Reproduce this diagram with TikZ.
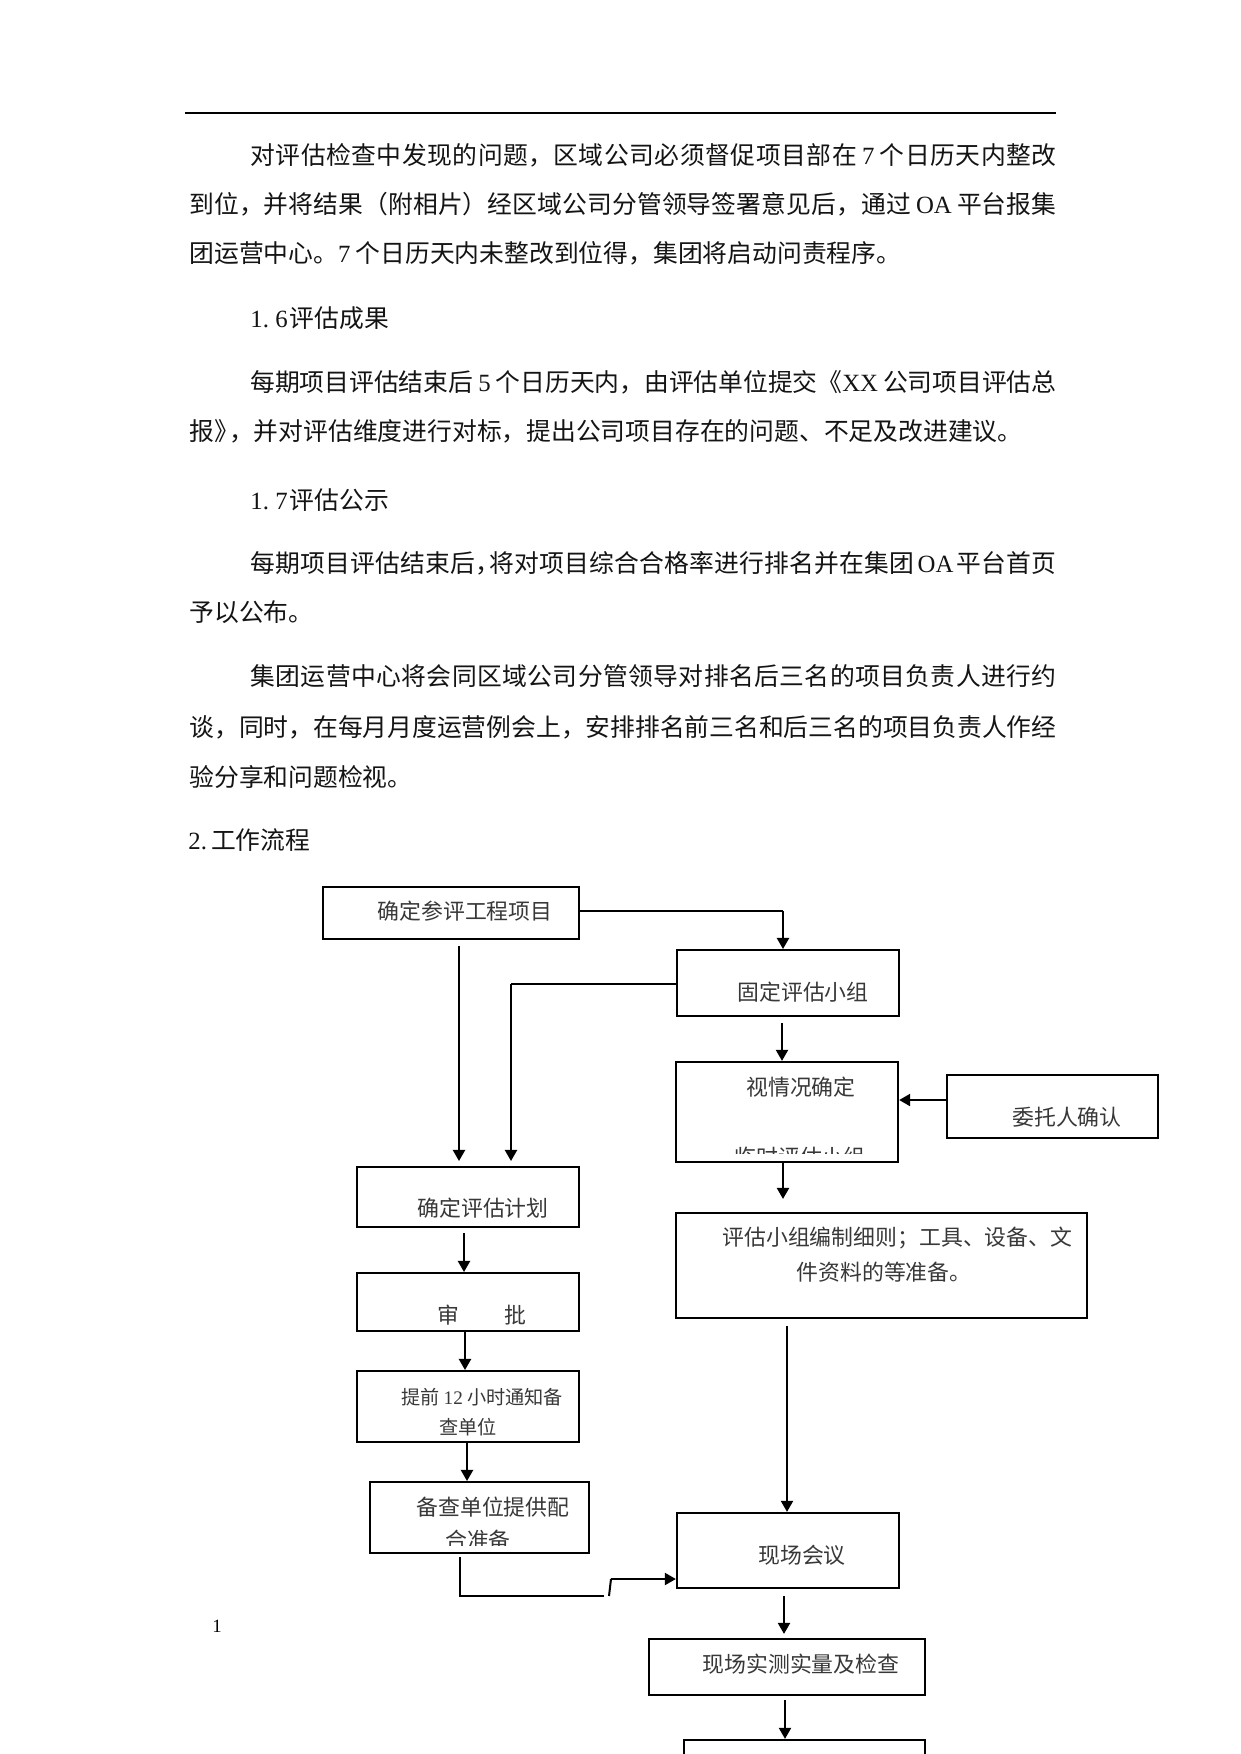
\documentclass[tikz,border=0pt]{standalone}
\usepackage{fontspec}
\setmainfont{Noto Sans CJK SC}
\newfontfamily\lat{Liberation Serif}
\usetikzlibrary{arrows.meta,fit,calc}
\XeTeXlinebreaklocale "zh"
\XeTeXlinebreakskip=0pt plus 1fil minus 0.6pt
\newcommand{\ls}{\hspace{2.5pt minus 1pt}}
\newcommand{\jl}[2]{\parbox{#1}{\parfillskip=0pt\parindent=0pt\leftskip=0pt\rightskip=0pt\hbadness=10000\hfuzz=20pt #2}}
\begin{document}
\begin{tikzpicture}[x=0.48pt,y=-0.48pt,
  box/.style={draw, line width=0.96pt, inner sep=0pt},
  bt/.style={font=\fontsize{10.5}{12}\selectfont, text=black!78, inner sep=0pt},
  smallbt/.style={font=\fontsize{9.2}{11}\selectfont, text=black!78, inner sep=0pt},
  para/.style={font=\fontsize{11.9}{14}\selectfont, anchor=west, inner sep=0pt, text=black!92},
  conn/.style={line width=0.96pt},
  thinconn/.style={line width=0.5pt},
  arr/.style={conn, -{Triangle[width=5.8pt,length=5.3pt]}}]
\useasboundingbox (0,0) rectangle (1241,1754);
\clip (0,0) rectangle (1241,1754);
\fill[white] (0,0) rectangle (1241,1754);

% header rule
\coordinate (r1) at (185,113);
\coordinate (r2) at (1056,113);
\draw[line width=1.1pt] (r1) -- (r2);

% paragraphs
\node[para] (p1) at (250,155) {\jl{386.9pt}{对评估检查中发现的问题，区域公司必须督促项目部在\ls{\lat 7}\ls 个日历天内整改}};
\node[para] (p2) at (189,204) {\jl{416.2pt}{到位，并将结果（附相片）经区域公司分管领导签署意见后，通过\ls{\lat OA}\ls 平台报集}};
\node[para] (p3) at (189,253) {团运营中心。{\lat 7}\ls 个日历天内未整改到位得，集团将启动问责程序。};
\node[para] (p4) at (250,318) {{\lat 1.\hspace{3pt}6}\hspace{1pt}评估成果};
\node[para] (p5) at (250,382) {\jl{386.9pt}{每期项目评估结束后\ls{\lat 5}\ls 个日历天内，由评估单位提交《{\lat XX}\ls 公司项目评估总}};
\node[para] (p6) at (189,431) {报》\kern-0.4em，并对评估维度进行对标，提出公司项目存在的问题、不足及改进建议。};
\node[para] (p7) at (250,500) {{\lat 1.\hspace{3pt}7}\hspace{1pt}评估公示};
\node[para] (p8) at (250,563) {\jl{386.9pt}{每期项目评估结束后，\kern-0.45em 将对项目综合合格率进行排名并在集团\hspace{1.5pt}{\lat OA}\hspace{1.5pt}平台首页}};
\node[para] (p9) at (189,612) {予以公布。};
\node[para] (p10) at (250,676) {\jl{386.9pt}{集团运营中心将会同区域公司分管领导对排名后三名的项目负责人进行约}};
\node[para] (p11) at (189,727) {\jl{416.2pt}{谈，同时，在每月月度运营例会上，安排排名前三名和后三名的项目负责人作经}};
\node[para] (p12) at (189,777) {验分享和问题检视。};
\node[para] (p13) at (188,840) {{\lat 2.}\hspace{2pt}工作流程};

% page number
\node[font=\lat\fontsize{9}{10}\selectfont, inner sep=0pt] (pn) at (217,1626) {1};

% boxes
\node[box, line width=1.2pt, fit={(323,887)(579,939)}] (b1) {};
\node[bt] (t1) at (465,911) {确定参评工程项目};
\node[box, fit={(677,950)(899,1016)}] (b2) {};
\node[bt] (t2) at (803,992) {固定评估小组};
\node[box, line width=1.1pt, fit={(676,1062)(898,1162)}] (b3) {};
\node[bt] (t3) at (801,1087) {视情况确定};
\begin{scope}
  \clip (676,1130) rectangle (898,1153);
  \node[bt] (t3b) at (800,1157) {临时评估小组};
\end{scope}
\node[box, line width=1.1pt, fit={(947,1075)(1158,1138)}] (b4) {};
\node[bt] (t4) at (1067,1117) {委托人确认};
\node[box, line width=1.1pt, fit={(676,1213)(1087,1318)}] (b5) {};
\node[bt, anchor=west] (t5a) at (722,1238) {评估小组编制细则；工具、设备、文};
\node[bt] (t5b) at (884,1272) {件资料的等准备。};
\node[box, fit={(357,1167)(579,1227)}] (b6) {};
\node[bt] (t6) at (483,1208) {确定评估计划};
\node[box, fit={(357,1273)(579,1331)}] (b7) {};
\node[bt] (t7) at (482,1315) {审\hspace{21.6pt}批};
\node[box, fit={(357,1371)(579,1442)}] (b8) {};
\node[smallbt] (t8a) at (482,1397) {提前 {\lat 12} 小时通知备};
\node[smallbt] (t8b) at (468,1427) {查单位};
\node[box, fit={(370,1482)(589,1553)}] (b9) {};
\node[bt] (t9a) at (493,1507) {备查单位提供配};
\begin{scope}
  \clip (371,1520) rectangle (589,1545);
  \node[bt] (t9b) at (478,1540) {合准备};
\end{scope}
\node[box, line width=1.1pt, fit={(677,1513)(899,1588)}] (b10) {};
\node[bt] (t10) at (802,1555) {现场会议};
\node[box, line width=1.1pt, fit={(649,1639)(925,1695)}] (b11) {};
\node[bt] (t11) at (801,1664) {现场实测实量及检查};
\node[box, line width=1.1pt, fit={(684,1740)(925,1800)}] (b12) {};

% connectors
\coordinate (k1) at (783,911);
\draw[thinconn] (b1.east |- k1) -- (k1);
\draw[arr] (k1) -- (k1 |- b2.north);
\coordinate (k2) at (511,984);
\draw[thinconn] (b2.west |- k2) -- (k2);
\draw[arr, shorten >=2.4pt] (k2) -- (k2 |- b6.north);
\coordinate (k3) at (459,946);
\draw[arr, shorten >=2.4pt] (k3) -- (k3 |- b6.north);
\coordinate (k4) at (782,1023);
\draw[arr] (k4) -- (k4 |- b3.north);
\coordinate (k5) at (947,1100);
\draw[arr] (b4.west |- k5) -- (b3.east |- k5);
\coordinate (k6) at (783,1162);
\draw[arr, shorten >=6.2pt] (b3.south -| k6) -- (k6 |- b5.north);
\coordinate (k7) at (787,1326);
\draw[arr] (k7) -- (k7 |- b10.north);
\coordinate (k8) at (464,1233);
\draw[arr] (k8) -- (k8 |- b7.north);
\coordinate (k9) at (465,1331);
\draw[arr] (k9) -- (k9 |- b8.north);
\coordinate (k10) at (467,1442);
\draw[arr] (k10) -- (k10 |- b9.north);
\coordinate (k11) at (460,1557);
\coordinate (k12) at (604,1596);
\coordinate (k13) at (609,1596);
\coordinate (k14) at (611,1579);
\draw[conn] (k11) |- (k12);
\draw[conn] (k13) -- (k14);
\draw[arr] (k14) -- (b10.west |- k14);
\coordinate (k15) at (784,1596);
\draw[arr, shorten >=1.9pt] (k15) -- (k15 |- b11.north);
\coordinate (k16) at (785,1700);
\draw[arr] (k16) -- (k16 |- b12.north);
\end{tikzpicture}
\end{document}
